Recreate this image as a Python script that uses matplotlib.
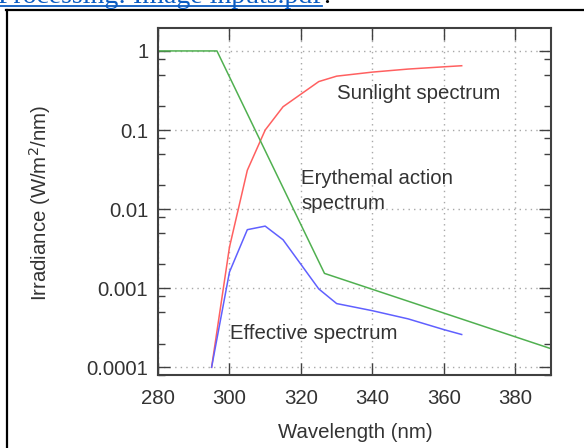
import numpy as np
import matplotlib
matplotlib.use("Agg")
import matplotlib.pyplot as plt
from matplotlib.ticker import LogLocator, NullFormatter, FixedLocator
from matplotlib.lines import Line2D

plt.rcParams['font.family'] = ['Liberation Sans', 'DejaVu Sans']

# values
sun_wl = [295, 300, 305, 310, 315, 325, 330, 340, 350, 360, 365]
sun_irr = [0.0001, 0.0033, 0.031, 0.1, 0.197, 0.41, 0.48, 0.54, 0.59, 0.63, 0.65]

ery_wl = [280, 296.5, 326.6, 390]
ery_val = [1.0, 1.0, 0.00154, 0.000172]

eff_wl = [295, 300, 305, 310, 315, 325, 330, 340, 350, 360, 365]
eff_irr = [0.0001, 0.00160, 0.0055, 0.0061, 0.0041, 0.00098, 0.00064,
           0.00052, 0.00041, 0.00030, 0.00026]

x_ticks = [280, 300, 320, 340, 360, 380]
y_ticks = [1, 0.1, 0.01, 0.001, 0.0001]
y_tick_labels = ["1", "0.1", "0.01", "0.001", "0.0001"]

W, H = 584, 448
fs = 14.7
fig = plt.figure(figsize=(W / 100, H / 100), dpi=100)
ax = fig.add_axes([158 / W, 1 - 375 / H, (551 - 158) / W, (375 - 28) / H])

txt = '#333333'
ax.plot(sun_wl, sun_irr, color='#ff6060', lw=1.1)
ax.plot(ery_wl, ery_val, color='#50b050', lw=1.1)
ax.plot(eff_wl, eff_irr, color='#6060ff', lw=1.1)

ax.set_yscale('log')
ax.set_xlim(280, 390)
ax.set_ylim(8e-5, 1.95)

ax.xaxis.set_major_locator(FixedLocator(x_ticks))
ax.set_xticklabels([str(v) for v in x_ticks])
ax.yaxis.set_major_locator(FixedLocator(y_ticks))
ax.set_yticklabels(y_tick_labels)
ax.yaxis.set_minor_locator(LogLocator(base=10, subs=(2, 5, 8), numticks=20))
ax.yaxis.set_minor_formatter(NullFormatter())

ax.tick_params(which='both', direction='in', top=True, right=True,
               color='#404040', labelcolor=txt, labelsize=fs)
ax.tick_params(which='major', length=8.5, width=1.0)
ax.tick_params(axis='x', which='major', pad=10)
ax.tick_params(axis='y', which='major', pad=7)
ax.tick_params(which='minor', length=5, width=1.0)

ax.grid(True, which='major', color='#a8a8a8', lw=1.0, linestyle=(0, (1, 3)))
for s in ax.spines.values():
    s.set_color('#404040')
    s.set_linewidth(1.5)

ax.text(330.1, 0.29, "Sunlight spectrum", color=txt, fontsize=fs,
        ha='left', va='center')
ax.text(320.1, 0.0172, "Erythemal action\nspectrum", color=txt, fontsize=fs,
        ha='left', va='center', linespacing=1.4)
ax.text(300.2, 0.00027, "Effective spectrum", color=txt, fontsize=fs,
        ha='left', va='center')

fig.text(355 / W, 1 - 432 / H, "Wavelength (nm)", color=txt, fontsize=fs,
         ha='center', va='center')
fig.text(40 / W, 1 - 203 / H, r"Irradiance (W/m$^2$/nm)", color=txt,
         fontsize=fs, ha='center', va='center', rotation=90)

# page frame and clipped link above the figure
fig.add_artist(Line2D([6 / W, 1], [1 - 10.5 / H, 1 - 10.5 / H], color='black',
                      lw=1.6, transform=fig.transFigure))
fig.add_artist(Line2D([6.5 / W, 6.5 / W], [0, 1 - 10.5 / H], color='black',
                      lw=1.6, transform=fig.transFigure))
fig.text(322 / W, 1 - 3 / H, "Processing: Image inputs.pdf", color='#0b5cc2',
         fontsize=20, family='Liberation Serif', ha='right', va='baseline')
fig.text(323 / W, 1 - 3 / H, ".", color='black', fontsize=20,
         family='Liberation Serif', ha='left', va='baseline')
fig.add_artist(Line2D([0, 322 / W], [1 - 6 / H, 1 - 6 / H], color='#0b5cc2',
                      lw=1.3, transform=fig.transFigure))

fig.savefig("out.png", dpi=100)
